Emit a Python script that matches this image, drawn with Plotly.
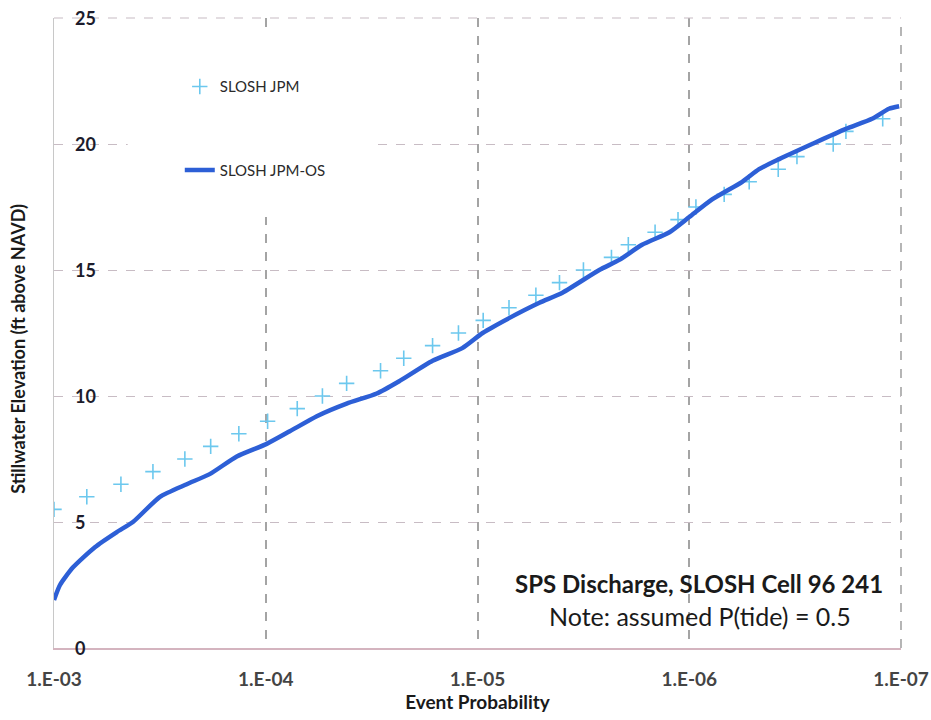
import plotly.graph_objects as go

# SLOSH JPM: exceedance probability vs. stillwater elevation (ft)
jpm_prob = [1.00e-3, 7.0e-4, 4.83e-4, 3.41e-4, 2.41e-4, 1.82e-4, 1.34e-4, 9.8e-5,
            7.1e-5, 5.4e-5, 4.15e-5, 2.87e-5, 2.23e-5, 1.63e-5, 1.23e-5, 9.4e-6,
            7.1e-6, 5.3e-6, 4.1e-6, 3.16e-6, 2.33e-6, 1.94e-6, 1.45e-6, 1.13e-6,
            9.3e-7, 6.84e-7, 5.21e-7, 3.80e-7, 3.10e-7, 2.09e-7, 1.82e-7, 1.22e-7]
jpm_elev = [5.5, 6.0, 6.5, 7.0, 7.5, 8.0, 8.5, 9.0, 9.5, 10.0, 10.5, 11.0, 11.5, 12.0,
            12.5, 13.0, 13.5, 14.0, 14.5, 15.0, 15.5, 16.0, 16.5, 17.0, 17.5, 18.0,
            18.5, 19.0, 19.5, 20.0, 20.5, 21.0]

# SLOSH JPM-OS curve
os_prob = [1.0e-3, 9.37e-4, 8.13e-4, 6.41e-4, 5.05e-4, 4.24e-4, 3.16e-4, 2.36e-4,
           1.84e-4, 1.37e-4, 9.9e-5, 7.7e-5, 5.74e-5, 4.15e-5, 2.99e-5, 2.33e-5,
           1.63e-5, 1.18e-5, 9.46e-6, 7.06e-6, 5.1e-6, 3.97e-6, 2.66e-6, 2.14e-6,
           1.67e-6, 1.24e-6, 1.0e-6, 7.8e-7, 5.62e-7, 4.68e-7, 3.76e-7, 2.63e-7,
           1.82e-7, 1.37e-7, 1.14e-7, 1.02e-7]
os_elev = [1.9, 2.5, 3.2, 4.0, 4.6, 5.0, 6.0, 6.5, 6.9, 7.6, 8.1, 8.6, 9.2, 9.7, 10.1,
           10.6, 11.4, 11.9, 12.5, 13.1, 13.7, 14.1, 15.0, 15.4, 16.0, 16.5, 17.1,
           17.8, 18.5, 19.0, 19.4, 20.0, 20.6, 21.0, 21.4, 21.5]

x_tickvals = [1e-3, 1e-4, 1e-5, 1e-6, 1e-7]
x_ticktext = ["1.E-03", "1.E-04", "1.E-05", "1.E-06", "1.E-07"]
y_tickvals = [0, 5, 10, 15, 20, 25]

FONT = "Lato"
HGRID = "#c8bcc4"
VGRID = "#a4a4a4"

fig = go.Figure()
fig.add_trace(go.Scatter(
    x=jpm_prob, y=jpm_elev, mode="markers", name="SLOSH JPM",
    legendgroup="a",
    marker=dict(symbol="cross-thin", size=11,
                line=dict(color="#6cc8ee", width=1.6), color="#6cc8ee"),
))
fig.add_trace(go.Scatter(
    x=os_prob, y=os_elev, mode="lines", name="SLOSH JPM-OS",
    legendgroup="b",
    line=dict(color="#2d5fd6", width=4.5, shape="spline", smoothing=0.6),
))

# y tick labels sit just inside the plot area, right of the axis line
annotations = [
    dict(text="<b>%d</b>" % v, xref="paper", yref="y", x=0.0225, y=v,
         xanchor="left", yanchor="middle", showarrow=False,
         font=dict(family=FONT, size=18, color="#1c1c2c"))
    for v in y_tickvals
]
annotations += [
    dict(text="<b>Stillwater Elevation (ft above NAVD)</b>", textangle=-90,
         xref="paper", yref="paper", x=-0.0425, y=0.475,
         xanchor="center", yanchor="middle", showarrow=False,
         font=dict(family=FONT, size=18, color="#1a1a1a")),
    dict(text="<b>SPS Discharge, SLOSH Cell 96 241</b>",
         xref="paper", yref="paper", x=0.761, y=0.103,
         xanchor="center", yanchor="middle", showarrow=False,
         font=dict(family=FONT, size=24, color="#1a1a1a")),
    dict(text="Note: assumed P(tide) = 0.5",
         xref="paper", yref="paper", x=0.763, y=0.051,
         xanchor="center", yanchor="middle", showarrow=False,
         font=dict(family=FONT, size=25, color="#1a1a1a")),
]

shapes = [
    # top and right boundary grid lines
    dict(type="line", xref="paper", yref="paper", x0=0, x1=1, y0=1, y1=1,
         line=dict(color=HGRID, width=1.2, dash="dash"), layer="above"),
    dict(type="line", xref="paper", yref="paper", x0=1, x1=1, y0=0, y1=1,
         line=dict(color=VGRID, width=1.6, dash="dash"), layer="above"),
    # white legend box (no data falls inside it)
    dict(type="rect", xref="paper", yref="paper", x0=0.087, x1=0.379,
         y0=0.684, y1=0.981, fillcolor="white", line=dict(width=0),
         layer="above"),
]

fig.update_layout(
    width=931, height=720,
    margin=dict(l=54, r=30, t=18, b=72),
    paper_bgcolor="white", plot_bgcolor="white",
    font=dict(family=FONT, color="#2a2a2a"),
    showlegend=True,
    legend=dict(
        x=0.1485, y=0.917, xanchor="left", yanchor="top",
        bgcolor="rgba(0,0,0,0)", borderwidth=0,
        font=dict(family=FONT, size=15, color="#2a2a2a"),
        tracegroupgap=61, traceorder="grouped",
    ),
    annotations=annotations,
    shapes=shapes,
)

fig.update_xaxes(
    type="log", range=[-3, -7], automargin=False,
    tickvals=x_tickvals, ticktext=x_ticktext,
    tickfont=dict(family=FONT, size=19, color="#444444", weight="bold"),
    ticklabelstandoff=13,
    showgrid=True, gridcolor=VGRID, gridwidth=1.6, griddash="dash",
    showline=True, linecolor="#d4b4bf", linewidth=1.5,
    ticks="", zeroline=False,
    title=dict(text="<b>Event Probability</b>", standoff=3,
               font=dict(family=FONT, size=19, color="#1a1a1a")),
)
fig.update_yaxes(
    range=[0, 25], tickvals=y_tickvals, showticklabels=False, automargin=False,
    showgrid=True, gridcolor=HGRID, gridwidth=1.2, griddash="dash",
    showline=True, linecolor="#c8c8c8", linewidth=1.2,
    ticks="", zeroline=False,
)

fig.write_html("out.html")
